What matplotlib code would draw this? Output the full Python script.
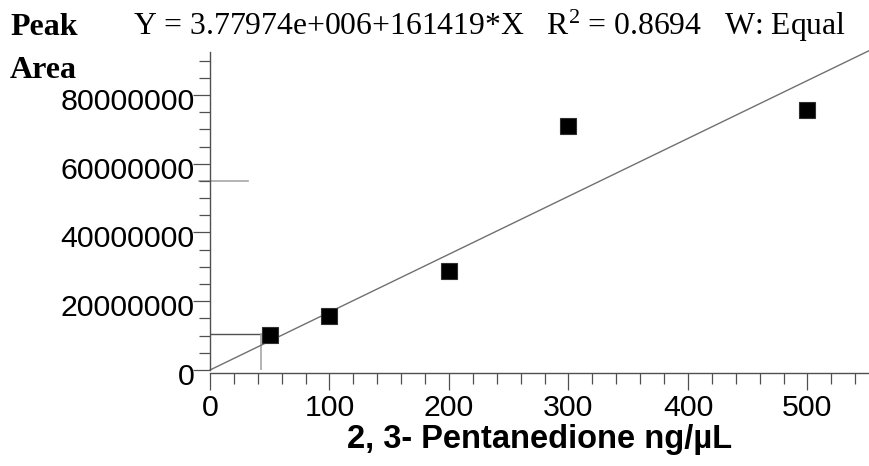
import matplotlib
matplotlib.use("Agg")
import matplotlib.pyplot as plt
import matplotlib.transforms as mtransforms
from matplotlib.ticker import MultipleLocator
import numpy as np

# ---- data ----
conc = [50, 100, 200, 300, 500]                      # ng/uL
peak_area = [10.1e6, 15.7e6, 28.7e6, 71.1e6, 75.7e6]  # peak area
line_slope = 168400            # drawn calibration line (through origin)
x_range = [0, 551.5]
y_range = [0, 92.5e6]
cursor_x = 42.7
cursor_y = 10.5e6
level_y = 55e6
level_x = [-9, 32]
equation = "Y = 3.77974e+006+161419*X   R$^{2}$ = 0.8694   W: Equal"
x_label = "2, 3- Pentanedione ng/µL"

plt.rcParams['mathtext.fontset'] = 'custom'
plt.rcParams['mathtext.rm'] = 'Liberation Serif'
plt.rcParams['mathtext.it'] = 'Liberation Serif:italic'

W, H = 869, 466
fig = plt.figure(figsize=(W / 100, H / 100), dpi=100)
left, right, bottom, top = 210, 869, 370, 52
ax = fig.add_axes([left / W, (H - bottom) / H, (right - left) / W, (bottom - top) / H])
ax.set_xlim(*x_range)
ax.set_ylim(*y_range)

spine_c = '#505050'
for s in ['top', 'right']:
    ax.spines[s].set_visible(False)
ax.spines['left'].set_color(spine_c)
ax.spines['bottom'].set_color(spine_c)
ax.spines['bottom'].set_position(('outward', 2.2))
ax.spines['left'].set_linewidth(1.0)
ax.spines['bottom'].set_linewidth(1.0)

ax.xaxis.set_major_locator(MultipleLocator(100))
ax.xaxis.set_minor_locator(MultipleLocator(20))
ax.yaxis.set_major_locator(MultipleLocator(20e6))
ax.yaxis.set_minor_locator(MultipleLocator(5e6))
ax.yaxis.set_major_formatter(matplotlib.ticker.FuncFormatter(lambda v, p: f"{int(round(v))}"))

ax.tick_params(axis='both', which='major', length=12.2, width=0.9, color=spine_c,
               labelsize=21.8, direction='out')
ax.tick_params(axis='both', which='minor', length=8.2, width=0.9, color=spine_c, direction='out')
ax.tick_params(axis='y', which='major', pad=-1.2)
ax.tick_params(axis='x', which='major', pad=3)
for lab in ax.get_yticklabels() + ax.get_xticklabels():
    lab.set_fontfamily('Liberation Sans')
offset = mtransforms.ScaledTranslation(0, -4 / 100, fig.dpi_scale_trans)
for lab in ax.get_yticklabels():
    lab.set_transform(lab.get_transform() + offset)

# calibration line
xs = np.array(x_range)
ax.plot(xs, line_slope * xs, color='#707070', lw=1.0, clip_on=False, zorder=2)

# cursor lines
ax.plot([0, cursor_x], [cursor_y, cursor_y], color='#505050', lw=1.0, zorder=1)
ax.plot([cursor_x, cursor_x], [0, cursor_y], color='#a8a8a8', lw=1.2, zorder=1)
ax.plot(level_x, [level_y, level_y], color='#a8a8a8', lw=1.2, zorder=1, clip_on=False)

# data points
ax.plot(conc, peak_area, linestyle='none', marker='s', markersize=11,
        markerfacecolor='black', markeredgecolor='#303030', markeredgewidth=0.8, zorder=3)

ax.set_xlabel(x_label, fontfamily='Liberation Sans', fontweight='bold', fontsize=23.5, labelpad=1)

fig.text(10 / W, 1 - 35 / H, "Peak", fontfamily='Liberation Serif', fontweight='bold',
         fontsize=23, va='baseline', ha='left')
fig.text(10 / W, 1 - 78 / H, "Area", fontfamily='Liberation Serif', fontweight='bold',
         fontsize=23, va='baseline', ha='left')
fig.text(133 / W, 1 - 35 / H, equation, fontfamily='Liberation Serif',
         fontsize=22.8, va='baseline', ha='left')

fig.savefig('out.png', dpi=100)
